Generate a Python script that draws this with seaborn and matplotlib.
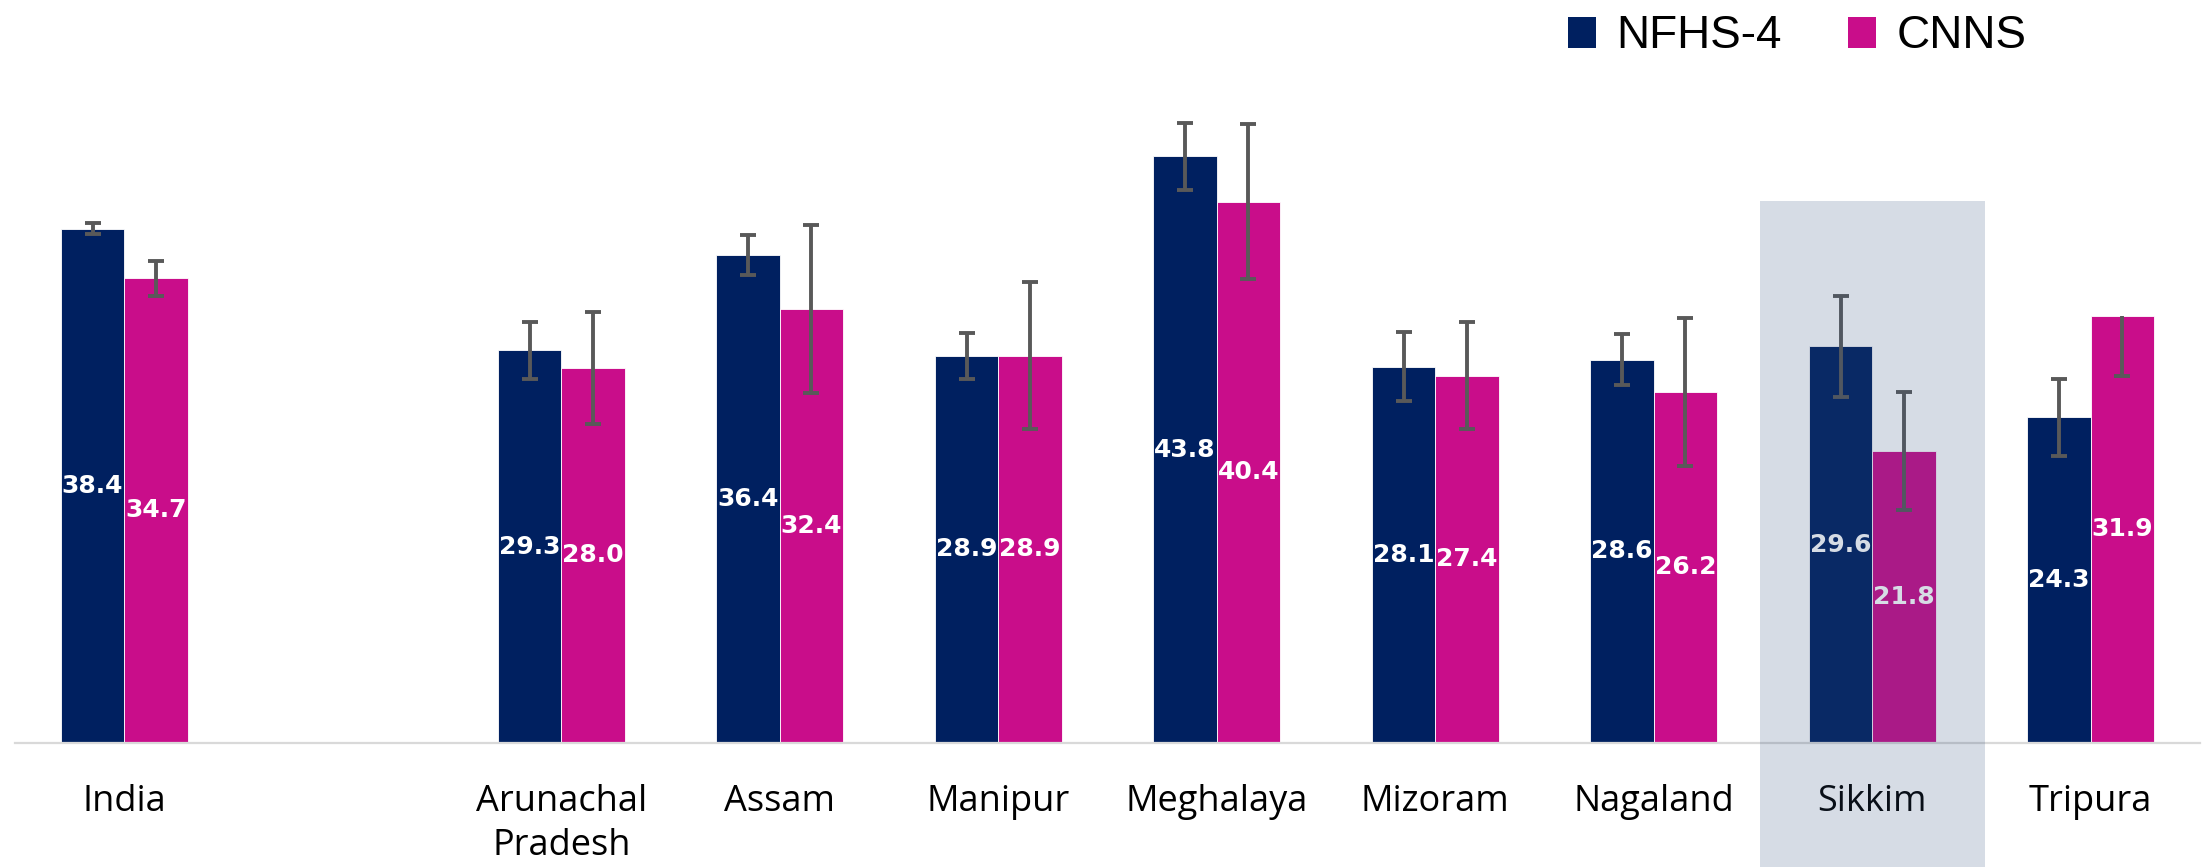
import matplotlib
matplotlib.use('Agg')
import numpy as np
import pandas as pd
import matplotlib.pyplot as plt
import seaborn as sns
from matplotlib.patches import Patch, Rectangle

# data
order = ["India", "", "Arunachal\nPradesh", "Assam", "Manipur", "Meghalaya",
         "Mizoram", "Nagaland", "Sikkim", "Tripura"]
states = ["India", "Arunachal\nPradesh", "Assam", "Manipur", "Meghalaya",
          "Mizoram", "Nagaland", "Sikkim", "Tripura"]
nfhs4 = [38.4, 29.3, 36.4, 28.9, 43.8, 28.1, 28.6, 29.6, 24.3]
cnns = [34.7, 28.0, 32.4, 28.9, 40.4, 27.4, 26.2, 21.8, 31.9]
nfhs4_err = [0.4, 2.1, 1.5, 1.7, 2.5, 2.6, 1.9, 3.8, 2.9]
cnns_err_low = [1.3, 4.2, 6.3, 5.5, 5.8, 4.0, 5.5, 4.4, 4.5]
cnns_err_high = [1.3, 4.2, 6.3, 5.5, 5.8, 4.0, 5.5, 4.4, 0.0]
series = ["NFHS-4", "CNNS"]
highlight = "Sikkim"

cores = {"NFHS-4": "#002060", "CNNS": "#C90D8A"}

df = pd.DataFrame({
    "estado": states * 2,
    "fonte": ["NFHS-4"] * len(states) + ["CNNS"] * len(states),
    "valor": nfhs4 + cnns,
})

fig = plt.figure(figsize=(22.1, 8.67), dpi=100)
ax = fig.add_axes([0.0068, 0.1434, 0.9887, 0.772])

sns.barplot(data=df, x="estado", y="valor", hue="fonte", order=order,
            hue_order=series, palette=cores, saturation=1, width=0.58,
            errorbar=None, legend=False, edgecolor="white", linewidth=0.6, ax=ax)

erros = [(nfhs4_err, nfhs4_err), (cnns_err_low, cnns_err_high)]
valores = [nfhs4, cnns]
for cont, (lo, hi), vals in zip(ax.containers, erros, valores):
    xs = np.array([b.get_x() + b.get_width() / 2 for b in cont])
    hs = np.array([b.get_height() for b in cont])
    _, caps, _ = ax.errorbar(xs, hs, yerr=[lo, hi], fmt="none", ecolor="#595959",
                             elinewidth=2.8, capsize=6, capthick=2.8, zorder=3)
    # no cap where the upper error is zero
    tem = np.array(hi) > 0
    caps[1].set_data(xs[tem], (hs + np.array(hi))[tem])
    ax.bar_label(cont, labels=[f"{v:.1f}" for v in vals], label_type="center",
                 color="white", fontweight="bold", fontsize=18, zorder=4)

ax.set_ylim(0, 50)
ax.set_xlim(-0.5, len(order) - 0.5)
ax.set_xlabel("")
ax.set_ylabel("")
ax.set_yticks([])
for s in ["top", "left", "right"]:
    ax.spines[s].set_visible(False)
ax.spines["bottom"].set_color("#D9D9D9")
ax.spines["bottom"].set_linewidth(1.6)
ax.tick_params(axis="x", length=0, pad=30)
for lab in ax.get_xticklabels():
    lab.set_fontfamily(["Open Sans", "DejaVu Sans"])
    lab.set_fontsize(26)
    lab.set_color("black")
    lab.set_linespacing(1.3)

# highlight band over Sikkim
i = order.index(highlight)
ax.add_patch(Rectangle((i - 0.512, -12), 1.027, 40.5 + 12, facecolor=(50/255, 80/255, 125/255),
                       alpha=0.2, edgecolor="none", clip_on=False, zorder=10))

handles = [Patch(facecolor=cores[s]) for s in series]
fig.legend(handles, series, loc="upper left", bbox_to_anchor=(0.691, 1.031),
           ncol=2, frameon=False, handlelength=0.6, handleheight=0.65,
           handletextpad=0.45, columnspacing=1.45,
           prop={"family": ["Liberation Sans", "DejaVu Sans"], "size": 33})

fig.savefig("out.png", dpi=100)
